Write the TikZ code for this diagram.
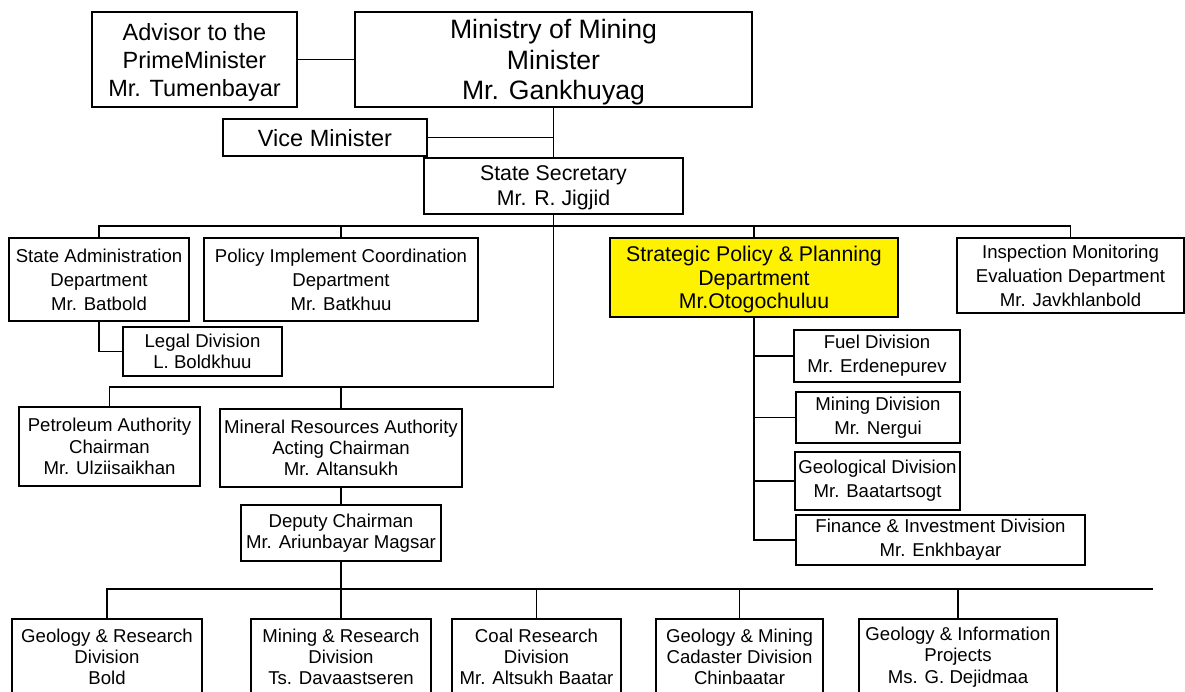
\documentclass[tikz,border=0pt]{standalone}
\usepackage{fontspec}
\setmainfont{Liberation Sans}
\tikzset{
orgbox/.style={rectangle, draw=black, line width=2pt, inner sep=0pt, align=center, font=\fontsize{18.6}{24}\selectfont},
unitbox/.style={orgbox, font=\fontsize{18.6}{21.3}\selectfont},
headbox/.style={orgbox, text depth=0pt, font=\fontsize{23.5}{28}\selectfont},
ministerbox/.style={orgbox, text depth=0pt, font=\fontsize{26.6}{30.5}\selectfont},
secbox/.style={orgbox, text depth=0pt, font=\fontsize{21.3}{25}\selectfont},
link/.style={draw=black, line width=1.3pt}
}
\begin{document}
\begin{tikzpicture}[x=1pt, y=-1pt]
\useasboundingbox (0,0) rectangle (1185,691);
\clip (0,0) rectangle (1185,691);

%Top level
\node[headbox, minimum width=205pt, minimum height=95pt] (advisor) at(194.5,59.5) {Advisor to the\\ PrimeMinister\\ Mr. Tumenbayar};
\node[ministerbox, minimum width=397pt, minimum height=95pt] (minister) at(553.5,59.5) {Ministry of Mining\\ Minister\\ Mr. Gankhuyag};
\node[headbox, minimum width=204pt, minimum height=37pt] (vice) at(325,137.5) {Vice Minister};
\node[secbox, minimum width=259pt, minimum height=56pt] (statesec) at(553.5,186) {State Secretary\\ Mr. R. Jigjid};

%Departments
\node[orgbox, minimum width=180pt, minimum height=83pt] (stateadmin) at(99,279.5) {State Administration\\ Department\\ Mr. Batbold};
\node[orgbox, minimum width=274pt, minimum height=83pt] (policy) at(341,279.5) {Policy Implement Coordination\\ Department\\ Mr. Batkhuu};
\node[secbox, fill=yellow, font=\fontsize{21.3}{23.5}\selectfont, minimum width=288pt, minimum height=79pt] (strategic) at(754,277.5) {Strategic Policy \& Planning\\ Department\\ Mr.Otogochuluu};
\node[orgbox, minimum width=227pt, minimum height=75pt] (inspection) at(1070.5,275.5) {Inspection Monitoring\\ Evaluation Department\\ Mr. Javkhlanbold};
\node[unitbox, minimum width=159pt, minimum height=49pt] (legal) at(202.5,351.5) {Legal Division\\ L. Boldkhuu};

%Divisions of strategic department
\node[orgbox, minimum width=166pt, minimum height=52pt] (fuel) at(877,356) {Fuel Division\\ Mr. Erdenepurev};
\node[orgbox, minimum width=164pt, minimum height=51pt] (miningdiv) at(878,417.5) {Mining Division\\ Mr. Nergui};
\node[orgbox, minimum width=165pt, minimum height=58pt] (geological) at(877.5,481) {Geological Division\\ Mr. Baatartsogt};
\node[orgbox, minimum width=289pt, minimum height=50pt] (finance) at(940.5,540) {Finance \& Investment Division\\ Mr. Enkhbayar};

%Authorities
\node[unitbox, minimum width=181pt, minimum height=79pt] (petroleum) at(109.5,446.5) {Petroleum Authority\\ Chairman\\ Mr. Ulziisaikhan};
\node[unitbox, minimum width=242pt, minimum height=78pt] (mineral) at(341,448) {Mineral Resources Authority\\ Acting Chairman\\ Mr. Altansukh};
\node[unitbox, minimum width=200pt, minimum height=56pt] (deputy) at(341,533) {Deputy Chairman\\ Mr. Ariunbayar Magsar};

%Bottom row
\node[unitbox, minimum width=190pt, minimum height=76pt] (geores) at(107,657) {Geology \& Research\\ Division\\ Bold};
\node[unitbox, minimum width=180pt, minimum height=76pt] (minres) at(341,657) {Mining \& Research\\ Division\\ Ts. Davaastseren};
\node[unitbox, minimum width=169pt, minimum height=76pt] (coal) at(536.5,657) {Coal Research\\ Division\\ Mr. Altsukh Baatar};
\node[unitbox, minimum width=167pt, minimum height=76pt] (cadaster) at(739.5,657) {Geology \& Mining\\ Cadaster Division\\ Chinbaatar};
\node[unitbox, minimum width=198pt, minimum height=76pt] (geoinfo) at(958,657) {Geology \& Information\\ Projects\\ Ms. G. Dejidmaa};

\coordinate (topbus) at(553.5,226);
\coordinate (midbus) at(553.5,387);
\coordinate (lowbus) at(341,589);
\coordinate (lowend) at(1153,589);

\draw[link] (advisor.east) -- (minister.west);
\draw[link] (minister.south) -- (statesec.north);
\draw[link] (vice.east) -- (vice.east -| minister.south);
\draw[link] (statesec.south) -- (topbus);
\draw[link] (stateadmin.north) |- (topbus) -| (inspection.north);
\draw[link] (policy.north) -- (policy.north |- topbus);
\draw[link] (strategic.north) -- (strategic.north |- topbus);
\draw[link] (stateadmin.south) |- (legal.west);

\draw[link] (topbus) -- (midbus) -| (petroleum.north);
\draw[link] (mineral.north) -- (mineral.north |- midbus);
\draw[link] (mineral.south) -- (deputy.north);

\draw[link] (strategic.south) |- (finance.west);
\draw[link] (strategic.south |- fuel.west) -- (fuel.west);
\draw[link] (strategic.south |- miningdiv.west) -- (miningdiv.west);
\draw[link] (strategic.south |- geological.west) -- (geological.west);

\draw[link] (deputy.south) -- (lowbus);
\draw[link] (geores.north) |- (lowend);
\draw[link] (minres.north) -- (minres.north |- lowbus);
\draw[link] (coal.north) -- (coal.north |- lowbus);
\draw[link] (cadaster.north) -- (cadaster.north |- lowbus);
\draw[link] (geoinfo.north) -- (geoinfo.north |- lowbus);
\end{tikzpicture}
\end{document}
